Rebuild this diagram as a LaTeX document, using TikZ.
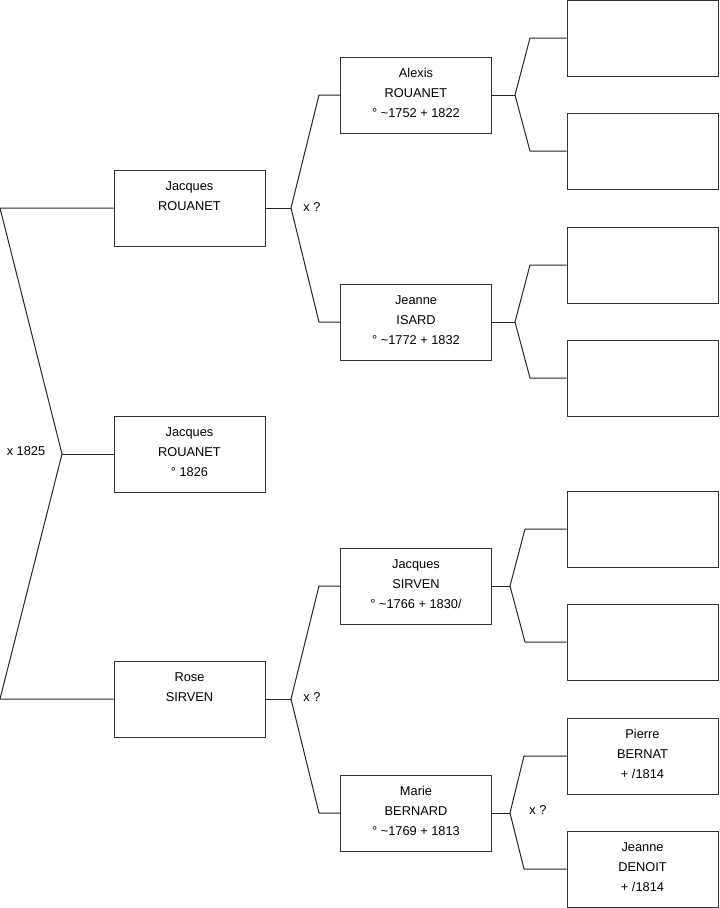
\documentclass[tikz,border=0pt]{standalone}
\usepackage{fontspec}
\setmainfont{Liberation Sans}
\newcommand\lowfix{\rule[-3pt]{0pt}{1pt}}
\begin{document}
\begin{tikzpicture}[x=0.75pt,y=-0.75pt,
 person/.style={draw=black!80, line width=0.75pt, minimum width=113.25pt, minimum height=57pt, inner sep=0pt, align=center, font=\fontsize{9.6pt}{15pt}\selectfont},
 link/.style={line width=0.75pt, draw=black!85},
 lbl/.style={font=\fontsize{9.6pt}{11pt}\selectfont, inner sep=0pt}]
\useasboundingbox (0,0) rectangle (719,908);
% generation 1
\node[person] (p1) at (189.5,208) {Jacques\\ROUANET\\\lowfix};
\node[person] (p0) at (189.5,454) {Jacques\\ROUANET\\° 1826\lowfix};
\node[person] (p2) at (189.5,699) {Rose\\SIRVEN\\\lowfix};
% generation 2
\node[person] (g1) at (416,95) {Alexis\\ROUANET\\° \textasciitilde 1752 + 1822\lowfix};
\node[person] (g2) at (416,322) {Jeanne\\ISARD\\° \textasciitilde 1772 + 1832\lowfix};
\node[person] (g3) at (416,586) {Jacques\\SIRVEN\\° \textasciitilde 1766 + 1830/\lowfix};
\node[person] (g4) at (416,813) {Marie\\BERNARD\\° \textasciitilde 1769 + 1813\lowfix};
% generation 3
\node[person] (r1) at (642.5,38) {};
\node[person] (r2) at (642.5,151) {};
\node[person] (r3) at (642.5,265) {};
\node[person] (r4) at (642.5,378) {};
\node[person] (r5) at (642.5,529) {};
\node[person] (r6) at (642.5,642) {};
\node[person] (r7) at (642.5,756) {Pierre\\BERNAT\\ + /1814\lowfix};
\node[person] (r8) at (642.5,869) {Jeanne\\DENOIT\\ + /1814\lowfix};
% left connector
\coordinate (L1) at (0,208);
\coordinate (L0) at (62,454);
\coordinate (L2) at (0,699);
\draw[link] (p1.west) -- (L1) -- (L0) -- (L2) -- (p2.west);
\draw[link] (L0) -- (p0.west);
\node[lbl] (m0) at (26,451) {x 1825};
% forks gen1 -> gen2
\coordinate (a1) at (291,208);
\coordinate (a1u) at (319,95);
\coordinate (a1d) at (319,322);
\draw[link] (p1.east) -- (a1);
\draw[link] (g1.west) -- (a1u) -- (a1) -- (a1d) -- (g2.west);
\node[lbl] (m1) at (312,207) {x ?};
\coordinate (a2) at (291,699);
\coordinate (a2u) at (319,586);
\coordinate (a2d) at (319,813);
\draw[link] (p2.east) -- (a2);
\draw[link] (g3.west) -- (a2u) -- (a2) -- (a2d) -- (g4.west);
\node[lbl] (m2) at (312,697) {x ?};
% forks gen2 -> gen3
\coordinate (b1) at (515,95);
\coordinate (b1u) at (530,38);
\coordinate (b1d) at (530,151);
\draw[link] (g1.east) -- (b1);
\draw[link] (r1.west) -- (b1u) -- (b1) -- (b1d) -- (r2.west);
\coordinate (b2) at (515,322);
\coordinate (b2u) at (530,265);
\coordinate (b2d) at (530,378);
\draw[link] (g2.east) -- (b2);
\draw[link] (r3.west) -- (b2u) -- (b2) -- (b2d) -- (r4.west);
\coordinate (b3) at (510,586);
\coordinate (b3u) at (525,529);
\coordinate (b3d) at (525,642);
\draw[link] (g3.east) -- (b3);
\draw[link] (r5.west) -- (b3u) -- (b3) -- (b3d) -- (r6.west);
\coordinate (b4) at (510,813);
\coordinate (b4u) at (524,756);
\coordinate (b4d) at (524,869);
\draw[link] (g4.east) -- (b4);
\draw[link] (r7.west) -- (b4u) -- (b4) -- (b4d) -- (r8.west);
\node[lbl] (m3) at (538,810) {x ?};
\end{tikzpicture}
\end{document}
